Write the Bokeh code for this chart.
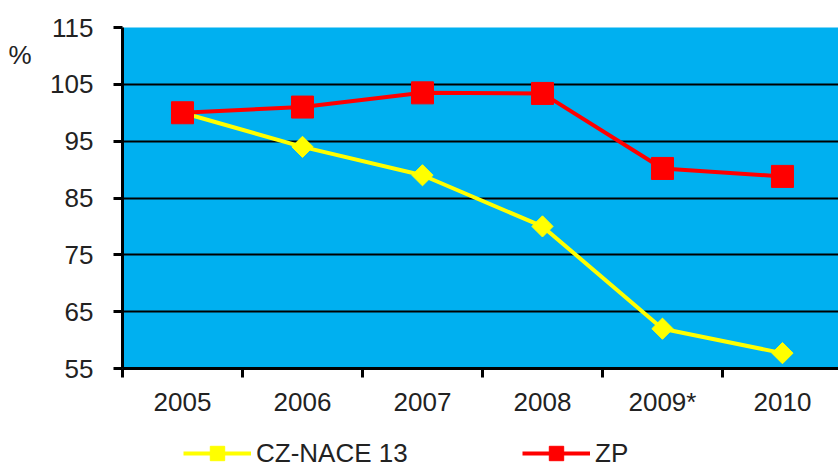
from bokeh.plotting import figure
from bokeh.models import Range1d, FixedTicker, Legend, LegendItem, LinearAxis
from bokeh.layouts import column
from bokeh.embed import file_html
from bokeh.resources import INLINE

# ---- data ----
years = ["2005", "2006", "2007", "2008", "2009*", "2010"]
cz_nace = [100, 94, 89, 80, 62, 57.7]
zp = [100, 101, 103.5, 103.4, 90.2, 88.8]
y_ticks = [55, 65, 75, 85, 95, 105, 115]
unit_label = "%"
unit_label_y = 110.2
series_names = ["CZ-NACE 13", "ZP"]

xpos = [i + 0.5 for i in range(len(years))]
boundaries = list(range(len(years) + 1))

FONT = "Liberation Sans"
TXT = "#222222"
FS = "26px"
YELLOW = "#FFFF00"
RED = "#FF0000"

H_MAIN = 419
H_LEG = 466 - H_MAIN

p = figure(width=838, height=H_MAIN, output_backend="svg", toolbar_location=None,
           x_range=Range1d(0, 5.967), y_range=Range1d(55, 115),
           min_border_left=122, min_border_right=0, min_border_top=27,
           min_border_bottom=H_MAIN - 27 - 341)

p.background_fill_color = "#00B0F0"
p.border_fill_color = "white"
p.outline_line_color = None

# grid
p.xgrid.visible = False
p.ygrid.ticker = FixedTicker(ticks=y_ticks)
p.ygrid.grid_line_color = "black"
p.ygrid.grid_line_width = 2

# y axis
p.yaxis.ticker = FixedTicker(ticks=y_ticks)
p.yaxis.axis_line_width = 3
p.yaxis.axis_line_color = "black"
p.yaxis.major_tick_in = 0
p.yaxis.major_tick_out = 9
p.yaxis.major_tick_line_width = 3
p.yaxis.minor_tick_line_color = None
p.yaxis.major_label_standoff = 20
p.yaxis.major_label_text_font = FONT
p.yaxis.major_label_text_font_size = FS
p.yaxis.major_label_text_color = TXT

# unit label "%" as an extra, line-less left axis
unit_axis = LinearAxis(ticker=FixedTicker(ticks=[unit_label_y]),
                       major_label_overrides={unit_label_y: unit_label},
                       axis_line_color=None, major_tick_line_color=None,
                       minor_tick_line_color=None, major_label_standoff=10,
                       major_label_text_font=FONT, major_label_text_font_size=FS,
                       major_label_text_color=TXT)
p.add_layout(unit_axis, "left")

# x axis
p.xaxis.ticker = FixedTicker(ticks=xpos, minor_ticks=boundaries)
p.xaxis.major_label_overrides = {x: y for x, y in zip(xpos, years)}
p.xaxis.axis_line_width = 3
p.xaxis.axis_line_color = "black"
p.xaxis.major_tick_in = 0
p.xaxis.major_tick_out = 0
p.xaxis.minor_tick_in = 0
p.xaxis.minor_tick_out = 9
p.xaxis.minor_tick_line_width = 3
p.xaxis.minor_tick_line_color = "black"
p.xaxis.major_label_standoff = 9
p.xaxis.major_label_text_font = FONT
p.xaxis.major_label_text_font_size = FS
p.xaxis.major_label_text_color = TXT


def draw_series(fig):
    l1 = fig.line(xpos, cz_nace, line_color=YELLOW, line_width=4)
    s1 = fig.scatter(xpos, cz_nace, marker="square", angle=0.785398, size=15,
                     fill_color=YELLOW, line_color=YELLOW)
    l2 = fig.line(xpos, zp, line_color=RED, line_width=4)
    s2 = fig.scatter(xpos, zp, marker="square", size=22,
                     fill_color=RED, line_color=RED)
    return (l1, s1), (l2, s2)


draw_series(p)

# ---- legend strip (separate figure below the chart) ----
q = figure(width=838, height=H_LEG, output_backend="svg", toolbar_location=None,
           x_range=Range1d(0, 5.967), y_range=Range1d(0, 1),
           x_axis_location=None, y_axis_location=None,
           min_border=0, min_border_left=0, min_border_right=0,
           min_border_top=0, min_border_bottom=0)
q.outline_line_color = None
q.grid.visible = False
q.background_fill_color = "white"
q.border_fill_color = "white"
(r1, r2) = draw_series(q)  # drawn outside q's visible range; used only for legend glyphs

legend = Legend(items=[LegendItem(label=series_names[0], renderers=list(r1)),
                       LegendItem(label=series_names[1], renderers=list(r2))],
                orientation="horizontal", location=(61, -5),
                glyph_width=68, glyph_height=36, label_standoff=5,
                label_width=266, spacing=0, padding=0, margin=0,
                border_line_color=None, background_fill_alpha=0,
                label_text_font=FONT, label_text_font_size=FS,
                label_text_color=TXT)
q.add_layout(legend, "center")

layout = column(p, q, spacing=0)
open("out.html", "w").write(file_html(layout, INLINE))
